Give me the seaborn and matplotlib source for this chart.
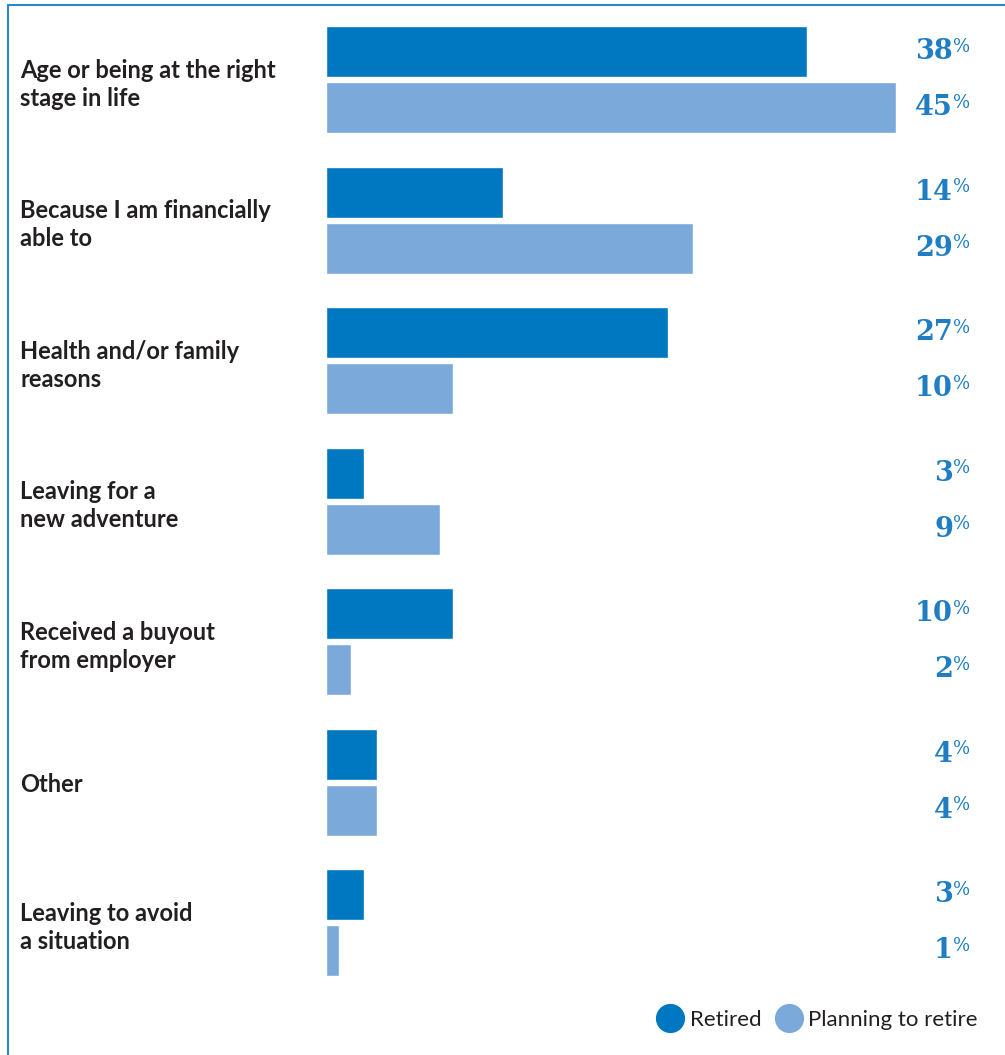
import matplotlib
matplotlib.use("Agg")
import matplotlib.pyplot as plt
from matplotlib.lines import Line2D
import matplotlib.transforms as mtransforms
import seaborn as sns
import pandas as pd

# data
categories = [
    "Age or being at the right\nstage in life",
    "Because I am financially\nable to",
    "Health and/or family\nreasons",
    "Leaving for a\nnew adventure",
    "Received a buyout\nfrom employer",
    "Other",
    "Leaving to avoid\na situation",
]
retired = [38, 14, 27, 3, 10, 4, 3]
planning = [45, 29, 10, 9, 2, 4, 1]
series_names = ["Retired", "Planning to retire"]

DARK = "#0077C1"
LIGHT = "#7BAADA"
VALUE_COLOR = "#1E7DC3"
TEXT_COLOR = "#231F20"

df = pd.DataFrame({
    "reason": categories * 2,
    "pct": retired + planning,
    "group": [series_names[0]] * len(categories) + [series_names[1]] * len(categories),
})

sns.set_style("white")
plt.rcParams['font.family'] = ['Lato', 'DejaVu Sans']

fig = plt.figure(figsize=(10.05, 10.55), dpi=100)
W, H = 1005, 1055
# axes placed in pixel terms: bars start at x=326, 45% reaches x=896
ax = fig.add_axes([326 / W, (H - 993.0) / H, 570 / W, 983.5 / H])

sns.barplot(data=df, y="reason", x="pct", hue="group", orient="h",
            palette=[DARK, LIGHT], width=0.8, gap=0.09, legend=False,
            ax=ax, saturation=1)

ax.set_xlim(0, 45)
ax.set_ylim(6.5, -0.5)
ax.set_xlabel("")
ax.set_ylabel("")
ax.set_xticks([])
sns.despine(ax=ax, left=True, bottom=True)

# category labels, left aligned at x=20px
ax.tick_params(axis="y", length=0, pad=306 / 1.389)
for lab in ax.get_yticklabels():
    lab.set_horizontalalignment("left")
    lab.set_fontsize(17)
    lab.set_fontweight("bold")
    lab.set_color(TEXT_COLOR)
    lab.set_linespacing(1.25)

# value labels on the right: number + small superscript %
serif = ["DejaVu Serif", "Liberation Serif"]
trans = mtransforms.blended_transform_factory(ax.transAxes, ax.transData)
for patch_group, vals in zip(ax.containers, [retired, planning]):
    for bar, v in zip(patch_group, vals):
        yc = bar.get_y() + bar.get_height() / 2
        ax.text(1.1, yc, f"{v}", transform=trans, ha="right", va="center",
                fontsize=19.5, fontweight="bold", color=VALUE_COLOR,
                family=serif, clip_on=False)
        ax.annotate("%", xy=(1.1, yc), xycoords=trans, xytext=(0, 3.5),
                    textcoords="offset points", ha="left", va="center",
                    fontsize=13, color=VALUE_COLOR, family=serif,
                    annotation_clip=False)

# legend with round markers
handles = [
    Line2D([], [], marker="o", linestyle="", markersize=20, color=DARK),
    Line2D([], [], marker="o", linestyle="", markersize=20, color=LIGHT),
]
fig.legend(handles, series_names, loc="center right",
           bbox_to_anchor=(978 / W, 1 - 1020 / H), ncol=2, frameon=False,
           fontsize=16, handletextpad=0.3, columnspacing=0.6,
           labelcolor=TEXT_COLOR, borderaxespad=0, borderpad=0,
           handlelength=1.2)

# thin frame along the top and left edges
frame_col = "#2C88CC"
fig.add_artist(Line2D([7.5 / W, 1], [1 - 5 / H, 1 - 5 / H],
                      transform=fig.transFigure, color=frame_col, lw=1.5))
fig.add_artist(Line2D([7.5 / W, 7.5 / W], [0, 1 - 5 / H],
                      transform=fig.transFigure, color=frame_col, lw=1.5))

fig.savefig("out.png", dpi=100, facecolor="white")
